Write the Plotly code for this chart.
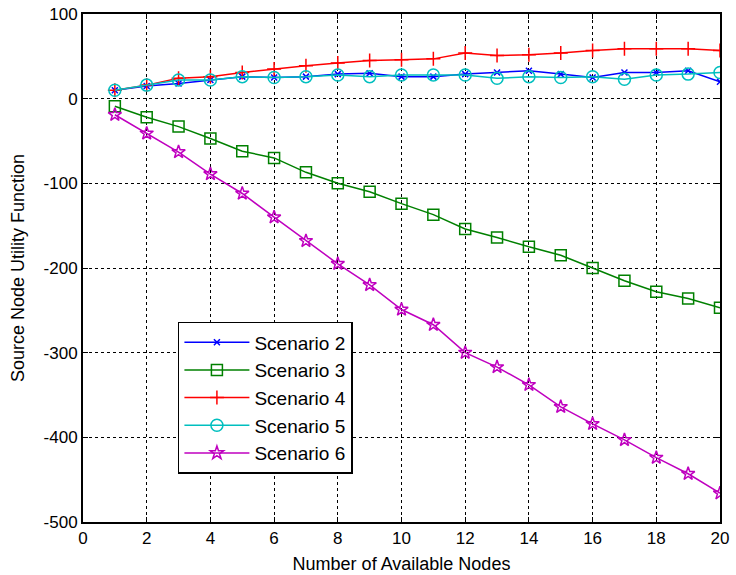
import plotly.graph_objects as go

# Number of available nodes (x axis)
nodes = list(range(1, 21))

# Source node utility per scenario
scenario2 = [10, 15, 18, 22, 26, 25, 26, 29, 30, 26, 26, 29, 31, 33, 29, 25, 31, 31, 33, 20]
scenario3 = [-9, -22, -33, -47, -62, -70, -87, -100, -110, -124, -137, -154, -164, -175, -185, -200, -215, -228, -236, -247]
scenario4 = [10, 16, 24, 26, 31, 35, 39, 42, 45, 46, 47, 54, 51, 52, 54, 57, 59, 59, 59, 57]
scenario5 = [10, 16, 22, 22, 26, 25, 26, 28, 26, 28, 28, 28, 24, 26, 25, 26, 23, 28, 29, 31]
scenario6 = [-19, -41, -63, -89, -112, -140, -168, -195, -220, -249, -267, -300, -317, -338, -364, -384, -403, -424, -443, -466]

series = [
    ("Scenario 2", scenario2, "#0000ff", "x-thin-open", 6),
    ("Scenario 3", scenario3, "#008000", "square-open", 11),
    ("Scenario 4", scenario4, "#ff0000", "cross-thin-open", 10),
    ("Scenario 5", scenario5, "#00bfbf", "circle-open", 12),
    ("Scenario 6", scenario6, "#bf00bf", "star-open", 10),
]

x_ticks = list(range(0, 21, 2))
y_ticks = list(range(-500, 101, 100))
y_labels = [str(v) for v in y_ticks]  # plain hyphen-minus labels

fig = go.Figure()
for name, vals, color, symbol, size in series:
    fig.add_trace(go.Scatter(
        x=nodes, y=vals, name=name, mode="lines+markers",
        line=dict(color=color, width=1.5),
        marker=dict(symbol=symbol, size=size, color=color,
                    line=dict(color=color, width=1.5)),
    ))

axis_common = dict(
    showline=True, linecolor="black", linewidth=2, mirror="ticks",
    ticks="inside", ticklen=5, tickcolor="black", tickwidth=1,
    showgrid=True, gridcolor="black", gridwidth=1, griddash="dot",
    zeroline=False, automargin=False,
    tickfont=dict(family="Liberation Sans, Arial", size=17, color="black"),
    title_font=dict(family="Liberation Sans, Arial", size=18, color="black"),
)

fig.update_xaxes(range=[0, 20], tickvals=x_ticks,
                 title_text="Number of Available Nodes", title_standoff=10,
                 **axis_common)
fig.update_yaxes(range=[-500, 100], tickvals=y_ticks, ticktext=y_labels,
                 title_text="Source Node Utility Function", title_standoff=14,
                 **axis_common)

fig.update_layout(
    width=736, height=575,
    margin=dict(l=83, r=16, t=14, b=53),
    paper_bgcolor="white", plot_bgcolor="white",
    font=dict(family="Liberation Sans, Arial", color="black"),
    legend=dict(
        x=0.149, y=0.394, xanchor="left", yanchor="top",
        bgcolor="white", bordercolor="black", borderwidth=1.5,
        font=dict(family="Liberation Sans, Arial", size=19, color="black"),
        itemwidth=65, tracegroupgap=0,
    ),
)

fig.write_html("out.html")
